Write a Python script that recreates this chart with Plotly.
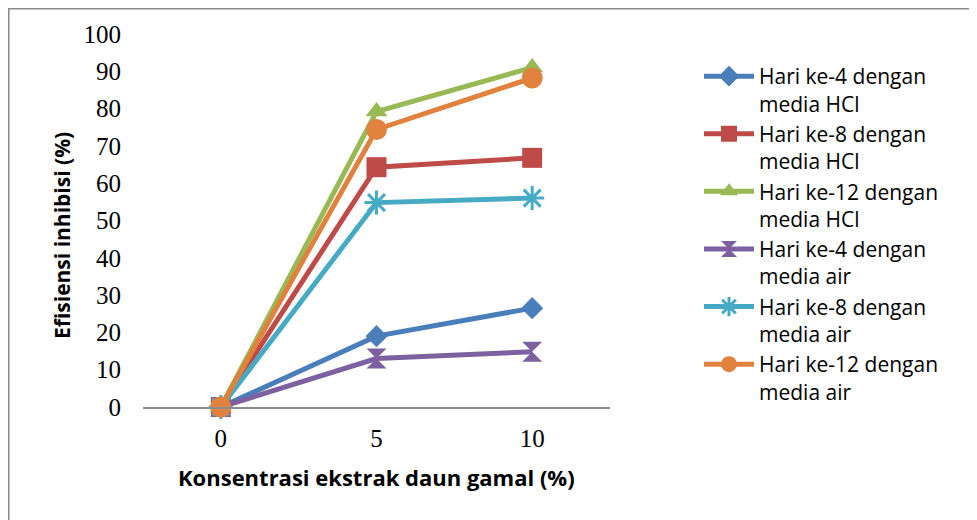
import plotly.graph_objects as go

categories = ["0", "5", "10"]
series_names = [
    "Hari ke-4 dengan<br>media HCl",
    "Hari ke-8 dengan<br>media HCl",
    "Hari ke-12 dengan<br>media HCl",
    "Hari ke-4 dengan<br>media air",
    "Hari ke-8 dengan<br>media air",
    "Hari ke-12 dengan<br>media air",
]
hcl_day4 = [0, 19.0, 26.5]
hcl_day8 = [0, 64.3, 66.8]
hcl_day12 = [0, 79.2, 91.0]
air_day4 = [0, 13.0, 14.8]
air_day8 = [0, 54.8, 56.0]
air_day12 = [0, 74.4, 88.2]
y_ticks = [0, 10, 20, 30, 40, 50, 60, 70, 80, 90, 100]

series_values = [hcl_day4, hcl_day8, hcl_day12, air_day4, air_day8, air_day12]
line_colors = ["#4A7EBB", "#BE4B48", "#98B954", "#7D60A0", "#46AAC5", "#E0823D"]
symbols = ["diamond", "square", "triangle-up", "hourglass", "asterisk-open", "circle"]
sizes = [17, 20, 19, 20, 20, 21]

fig = go.Figure()
for name, vals, col, sym, sz in zip(series_names, series_values, line_colors, symbols, sizes):
    marker = dict(symbol=sym, size=sz, color=col)
    if sym.endswith("-open"):
        marker["line"] = dict(color=col, width=3)
    else:
        marker["line"] = dict(color=col, width=0)
    fig.add_trace(go.Scatter(
        x=categories, y=vals, name=name, mode="lines+markers",
        line=dict(color=col, width=5), marker=marker, cliponaxis=False,
    ))

# page offset of the body margin
OFF = 8
W, H = 977 - OFF, 520 - OFF
# plot area in page pixels
L, R, T, B = 143, 610, 34, 407

def px_x(p):
    return (p - L) / (R - L)

def px_y(p):
    return (B - p) / (B - T)

fig.update_layout(
    width=W, height=H,
    margin=dict(l=L - OFF, r=W - (R - OFF), t=T - OFF, b=H - (B - OFF)),
    paper_bgcolor="white", plot_bgcolor="white",
    showlegend=True,
    legend=dict(
        x=px_x(699), y=px_y(56), xanchor="left", yanchor="top",
        font=dict(family="Open Sans", size=21, color="#000000"),
        valign="top", itemwidth=50, tracegroupgap=0,
        bgcolor="rgba(0,0,0,0)",
    ),
    xaxis=dict(
        type="category", range=[-0.5, 2.5], showgrid=False, zeroline=False,
        showline=True, linecolor="#8C8C8C", linewidth=2, ticks="",
        tickfont=dict(family="Liberation Serif", size=25, color="#000000"),
        ticklabelstandoff=8,
    ),
    yaxis=dict(
        range=[0, 100], tickvals=y_ticks, showgrid=False, zeroline=False,
        showline=False, ticks="",
        tickfont=dict(family="Liberation Serif", size=25, color="#000000"),
        ticklabelstandoff=21,
    ),
    shapes=[dict(
        type="rect", xref="paper", yref="paper",
        x0=px_x(8.5), x1=px_x(1000), y0=px_y(8.5), y1=px_y(560),
        line=dict(color="#888888", width=2), fillcolor="rgba(0,0,0,0)", layer="below",
    )],
    annotations=[
        dict(text="<b>Konsentrasi ekstrak daun gamal (%)</b>", xref="paper", yref="paper",
             x=px_x(376), y=px_y(477), xanchor="center", yanchor="middle", showarrow=False,
             font=dict(family="Open Sans", size=22, color="#000000")),
        dict(text="<b>Efisiensi inhibisi (%)</b>", xref="paper", yref="paper",
             x=px_x(62), y=px_y(236), xanchor="center", yanchor="middle", showarrow=False,
             textangle=-90, font=dict(family="Open Sans", size=21, color="#000000")),
    ],
)

fig.write_html("out.html")
